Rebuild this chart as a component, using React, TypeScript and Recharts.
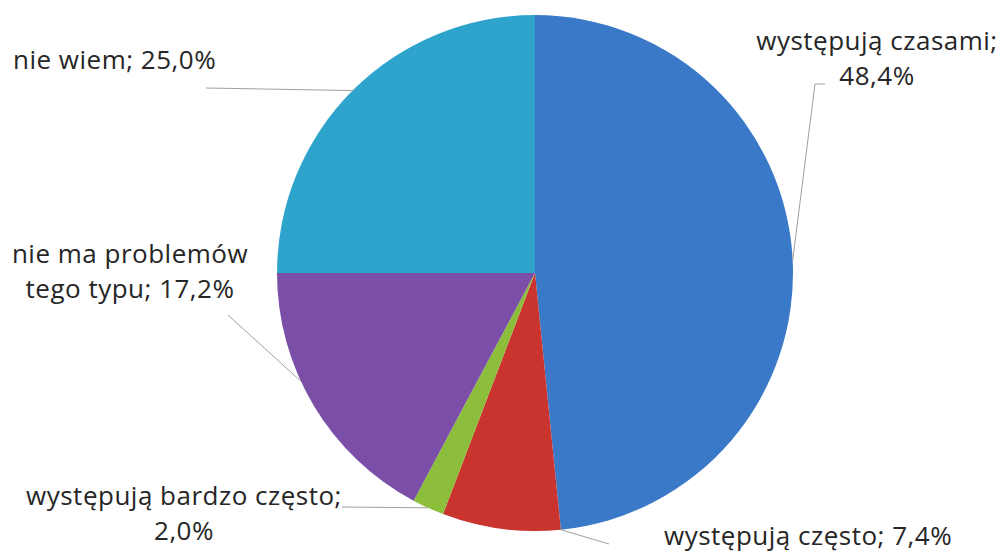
import { PieChart, Pie, Cell } from 'recharts';

const categories = [
  'występują czasami',
  'występują często',
  'występują bardzo często',
  'nie ma problemów tego typu',
  'nie wiem',
];
const shares = [48.4, 7.4, 2.0, 17.2, 25.0];
const colors = ['#3a78c8', '#c9342e', '#8cbd3b', '#7b4fa7', '#2ea4cd'];

const data = categories.map((name, i) => ({ name, value: shares[i] }));

// label placement, in chart pixels
const labelLayout = [
  { x: 877, y: 50, anchor: 'middle', breakAfter: 2, elbow: [815, 84], from: [825, 84], at: 0.5 },
  { x: 664, y: 545, anchor: 'start', breakAfter: 0, elbow: null, from: [609, 544], at: 0 },
  { x: 184, y: 505, anchor: 'middle', breakAfter: 3, elbow: null, from: [342, 507], at: 0.5 },
  { x: 130, y: 263, anchor: 'middle', breakAfter: 3, elbow: null, from: [228, 315], at: 0.6 },
  { x: 13, y: 69, anchor: 'start', breakAfter: 0, elbow: null, from: [206, 88], at: 0.5 },
];

const RAD = Math.PI / 180;
const fmt = (v: number) => v.toFixed(1).replace('.', ',') + '%';

const renderLabel = (props: any) => {
  const { cx, cy, outerRadius, startAngle, endAngle, index, name, value } = props;
  const l = labelLayout[index];
  const ang = startAngle + (endAngle - startAngle) * l.at;
  const ex = cx + outerRadius * Math.cos(-ang * RAD);
  const ey = cy + outerRadius * Math.sin(-ang * RAD);
  const words = `${name}; ${fmt(value)}`.split(' ');
  const lines = l.breakAfter
    ? [words.slice(0, l.breakAfter).join(' '), words.slice(l.breakAfter).join(' ')]
    : [words.join(' ')];
  const pts = [l.from, ...(l.elbow ? [l.elbow] : []), [ex, ey]].map((p) => p.join(',')).join(' ');
  return (
    <g key={`lbl-${index}`}>
      <polyline points={pts} fill="none" stroke="#a0a0a0" strokeWidth={1} />
      <text
        x={l.x}
        y={l.y}
        textAnchor={l.anchor as any}
        fill="#262626"
        fontSize={26}
        letterSpacing={0.5}
        fontFamily="'Open Sans', sans-serif"
      >
        {lines.map((t, k) => (
          <tspan key={k} x={l.x} dy={k === 0 ? 0 : 35}>
            {t}
          </tspan>
        ))}
      </text>
    </g>
  );
};

export default function App() {
  return (
    <div style={{ position: 'absolute', left: 0, top: 0, width: 997, height: 553, background: '#fff', overflow: 'hidden' }}>
      <PieChart width={997} height={553} margin={{ top: 0, right: 0, bottom: 0, left: 0 }}>
        <Pie
          data={data}
          dataKey="value"
          nameKey="name"
          cx={535}
          cy={273}
          outerRadius={258}
          startAngle={90}
          endAngle={-270}
          stroke="none"
          label={renderLabel}
          labelLine={false}
          isAnimationActive={false}
        >
          {data.map((d, i) => (
            <Cell key={d.name} fill={colors[i]} />
          ))}
        </Pie>
      </PieChart>
    </div>
  );
}
